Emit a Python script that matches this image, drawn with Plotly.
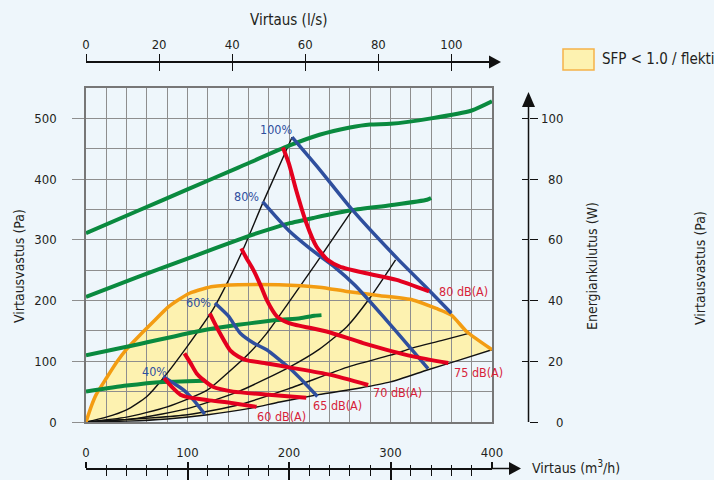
import plotly.graph_objects as go

# ---------------- data (flow m3/h, pressure Pa) ----------------
green_100_x = [0, 50, 100, 150, 200, 230, 260, 280, 300, 340, 380, 400]
green_100_y = [311, 347, 383, 419, 455, 473, 485, 490, 491, 500, 513, 528]
green_80_x = [0, 50, 100, 158, 178, 200, 224, 262, 300, 336, 340]
green_80_y = [206, 238, 269, 305, 316, 327, 336, 349, 357, 366, 369]
green_60_x = [0, 40, 112, 150, 188, 211, 225, 232]
green_60_y = [110, 124, 150, 160, 168, 171, 175, 176]
green_40_x = [0, 40, 76, 100, 117]
green_40_y = [50, 60, 66, 67, 68]

blue_100_x = [203, 230, 262, 308, 335, 360]
blue_100_y = [469, 416, 350, 267, 222, 179]
blue_80_x = [174, 200, 225, 245, 265, 300, 337]
blue_80_y = [363, 315, 280, 255, 225, 160, 88]
blue_60_x = [127, 140, 152, 165, 178, 191, 201, 215, 228]
blue_60_y = [196, 175, 146, 130, 119, 102, 88, 65, 42]
blue_40_x = [76, 86, 96, 106, 117]
blue_40_y = [75, 64, 53, 36, 13]

red_80_x = [194, 200, 207, 217, 227, 238, 250, 276, 306, 338]
red_80_y = [452, 425, 382, 328, 289, 267, 256, 245, 234, 215]
red_75_x = [153, 158, 165, 172, 178, 188, 200, 237, 273, 322, 357]
red_75_y = [286, 270, 250, 225, 201, 174, 163, 149, 130, 108, 97]
red_70_x = [122, 127, 132, 142, 150, 158, 180, 200, 240, 278]
red_70_y = [179, 162, 146, 118, 108, 102, 96, 90, 78, 61]
red_65_x = [97, 103, 109, 116, 125, 145, 180, 217]
red_65_y = [113, 97, 80, 69, 58, 50, 45, 40]
red_60_x = [77, 85, 93, 100, 120, 145, 168]
red_60_y = [72, 57, 45, 41, 36, 31, 25]

black_a_x = [0, 20, 40, 60, 76, 100, 125, 140, 155, 174, 203]
black_a_y = [0, 8, 20, 42, 72, 125, 185, 232, 285, 360, 469]
black_b_x = [0, 40, 80, 119, 139, 160, 178, 201, 227, 262]
black_b_y = [0, 8, 25, 52, 80, 112, 146, 200, 262, 348]
black_c_x = [0, 50, 100, 150, 200, 230, 257, 280, 305]
black_c_y = [0, 6, 22, 50, 90, 120, 157, 205, 267]
black_d_x = [0, 100, 150, 200, 257, 300, 322, 350, 377]
black_d_y = [0, 12, 28, 55, 90, 110, 122, 134, 146]
black_e_x = [0, 40, 80, 120, 160, 191, 229, 270, 300, 337, 370, 400]
black_e_y = [0, 1.5, 5, 12, 22, 33, 45, 56, 66, 86, 103, 119]

sfp_x = [0, 5, 10, 20, 30, 40, 53, 68, 80, 90, 102, 115, 125, 150, 190, 230, 257, 290, 322, 345, 360, 375, 400]
sfp_y = [0, 25, 45, 72, 98, 120, 143, 168, 188, 200, 212, 219, 223, 226, 226, 222, 215, 208, 201, 187, 176, 149, 119]

pa_ticks = [0, 100, 200, 300, 400, 500]
ls_ticks = [0, 20, 40, 60, 80, 100]
m3h_ticks = [0, 100, 200, 300, 400]
w_ticks = [0, 20, 40, 60, 80, 100]

green_labels = ["100%", "80%", "60%", "40%"]
blue_labels = ["100%", "80%", "60%", "40%"]
red_labels = ["80 dB(A)", "75 dB(A)", "70 dB(A)", "65 dB(A)", "60 dB(A)"]

# ---------------- style ----------------
W, H = 714, 480
BG = "#eef6fb"
GRID = "#8e8e8e"
GREEN = "#0a8a3f"
BLUE = "#2f4f9e"
RED = "#e4001f"
ORANGE = "#f39c12"
YELLOW = "#fdf2b0"
TXT = "#231f20"
FONT = "Liberation Sans Narrow, DejaVu Sans Condensed, sans-serif"

def px(xp):
    return xp / W

def py(yp):
    return 1 - yp / H

fig = go.Figure()

for xs, ys in [(black_a_x, black_a_y), (black_b_x, black_b_y), (black_c_x, black_c_y),
               (black_d_x, black_d_y), (black_e_x, black_e_y)]:
    fig.add_trace(go.Scatter(x=xs, y=ys, mode="lines", line=dict(color="#111", width=1.4, shape="spline", smoothing=0.6),
                             hoverinfo="skip", showlegend=False))

fig.add_trace(go.Scatter(x=sfp_x, y=sfp_y, mode="lines", line=dict(color=ORANGE, width=3.5, shape="spline", smoothing=0.6),
                         showlegend=False))

for xs, ys in [(green_100_x, green_100_y), (green_80_x, green_80_y), (green_60_x, green_60_y), (green_40_x, green_40_y)]:
    fig.add_trace(go.Scatter(x=xs, y=ys, mode="lines", line=dict(color=GREEN, width=4, shape="spline", smoothing=0.6),
                             showlegend=False))
for xs, ys in [(blue_100_x, blue_100_y), (blue_80_x, blue_80_y), (blue_60_x, blue_60_y), (blue_40_x, blue_40_y)]:
    fig.add_trace(go.Scatter(x=xs, y=ys, mode="lines", line=dict(color=BLUE, width=3.5, shape="spline", smoothing=0.6),
                             showlegend=False))
for xs, ys in [(red_80_x, red_80_y), (red_75_x, red_75_y), (red_70_x, red_70_y), (red_65_x, red_65_y), (red_60_x, red_60_y)]:
    fig.add_trace(go.Scatter(x=xs, y=ys, mode="lines", line=dict(color=RED, width=4, shape="spline", smoothing=0.6),
                             showlegend=False))

# empty traces so the extra (secondary) axes get drawn
for xa, ya in [("x2", "y"), ("x3", "y"), ("x4", "y"), ("x5", "y"), ("x", "y2"), ("x", "y3")]:
    fig.add_trace(go.Scatter(x=[None], y=[None], xaxis=xa, yaxis=ya, mode="lines",
                             showlegend=False, hoverinfo="skip"))

# SFP fill area (below gridlines), built from the orange curve and the lowest system curve
poly_x = sfp_x + black_e_x[::-1]
poly_y = sfp_y + black_e_y[::-1]
path = "M " + " L ".join(f"{x},{y}" for x, y in zip(poly_x, poly_y)) + " Z"
shapes = [dict(type="path", path=path, xref="x", yref="y", fillcolor=YELLOW, line=dict(width=0), layer="below")]

# axis arrow heads / extensions (decoration)
shapes += [
    dict(type="path", xref="paper", yref="paper", layer="above",
         path=f"M {px(501)},{py(62)} L {px(489)},{py(55.5)} L {px(489)},{py(68.5)} Z", fillcolor="#111", line=dict(width=0)),
    dict(type="path", xref="paper", yref="paper", layer="above",
         path=f"M {px(521)},{py(468.5)} L {px(509)},{py(462)} L {px(509)},{py(475)} Z", fillcolor="#111", line=dict(width=0)),
    dict(type="line", xref="paper", yref="paper", x0=px(492), x1=px(510), y0=py(468.5), y1=py(468.5), line=dict(color="#111", width=1.5)),
    dict(type="path", xref="paper", yref="paper", layer="above",
         path=f"M {px(528.5)},{py(92)} L {px(522)},{py(107)} L {px(535)},{py(107)} Z", fillcolor="#111", line=dict(width=0)),
    dict(type="line", xref="paper", yref="paper", x0=px(528.5), x1=px(528.5), y0=py(422), y1=py(106), line=dict(color="#111", width=1.5)),
    # legend swatch
    dict(type="rect", xref="paper", yref="paper", x0=px(563), x1=px(594), y0=py(70), y1=py(49),
         fillcolor=YELLOW, line=dict(color="#f5b24a", width=1.5)),
]

xdom = [px(86), px(492)]
ydom = [py(422), py(88)]


def label(text, x, y, size, color=TXT, xanchor="center", angle=0, xref="paper", yref="paper"):
    return dict(text=text, x=x, y=y, xref=xref, yref=yref, showarrow=False, xanchor=xanchor, yanchor="middle",
                textangle=angle, font=dict(size=size, color=color, family=FONT))


annotations = [
    label("Virtaus (l/s)", px(288), py(20), 15),
    label("Virtaus (m<sup>3</sup>/h)", px(530), py(467), 14, xanchor="left"),
    label("Virtausvastus (Pa)", px(19), py(266), 14, angle=-90),
    label("Energiankulutus (W)", px(592), py(266), 14, angle=-90),
    label("Virtausvastus (Pa)", px(700), py(268), 14, angle=-90),
    label("SFP < 1.0 / flekti", px(600), py(59), 15, xanchor="left"),
]
for v in w_ticks:
    annotations.append(label(str(v), px(565), v, 13, xanchor="right", yref="y2"))

green_pos = [(-14, 330), (-14, 222), (-14, 127), (-14, 64)]
for t, (x, y) in zip(green_labels, green_pos):
    annotations.append(label(t, x, y, 12.5, color=GREEN, xanchor="left", xref="x", yref="y"))
blue_pos = [(187, 481), (158, 371), (111, 196), (67, 83)]
for t, (x, y) in zip(blue_labels, blue_pos):
    annotations.append(label(t, x, y, 12.5, color=BLUE, xref="x", yref="y"))
red_pos = [(372, 215), (387, 81), (307, 48), (248, 28), (193, 9)]
for t, (x, y) in zip(red_labels, red_pos):
    annotations.append(label(t, x, y, 12.5, color="#d71f3a", xref="x", yref="y"))

tickfont = dict(size=13, color=TXT, family=FONT)

fig.update_layout(
    width=W, height=H, margin=dict(l=0, r=0, t=0, b=0, pad=0, autoexpand=False),
    paper_bgcolor=BG, plot_bgcolor=BG, showlegend=False,
    font=dict(family=FONT, color=TXT),
    shapes=shapes, annotations=annotations,
    xaxis=dict(domain=xdom, range=[0, 400], dtick=20, tick0=0, showgrid=True, gridcolor=GRID, gridwidth=1,
               showticklabels=False, ticks="", zeroline=False, showline=True, mirror=True,
               linecolor="#777", linewidth=1.5, automargin=False),
    yaxis=dict(domain=ydom, range=[0, 550], tickvals=pa_ticks, ticks="outside", ticklen=12, tickcolor=GRID,
               tickwidth=1, showgrid=True, gridcolor=GRID, gridwidth=1, zeroline=False,
               minor=dict(dtick=50, tick0=0, showgrid=True, gridcolor=GRID, gridwidth=1, ticks=""),
               showline=True, mirror=True, linecolor="#777", linewidth=1.5,
               tickfont=tickfont, ticklabelstandoff=13, automargin=False),
    xaxis2=dict(overlaying="x", anchor="free", position=py(62), side="top", range=[0, 400 / 3.6],
                tickvals=ls_ticks, ticks="outside", ticklen=7, tickwidth=1.3, tickcolor="#111",
                showline=True, linecolor="#111", linewidth=1.5, showgrid=False, zeroline=False,
                tickfont=tickfont, automargin=False),
    xaxis3=dict(overlaying="x", anchor="free", position=py(62), side="top", range=[0, 400 / 3.6],
                tickvals=ls_ticks, ticks="inside", ticklen=8, tickwidth=1.3, tickcolor="#111",
                showline=False, showgrid=False, zeroline=False, showticklabels=False, automargin=False),
    xaxis4=dict(overlaying="x", anchor="free", position=py(468.5), side="top", range=[0, 400],
                tickvals=m3h_ticks, ticks="outside", ticklen=6, tickwidth=1.5, tickcolor="#111",
                minor=dict(dtick=20, tick0=0, ticks="outside", ticklen=3, tickwidth=1.2, tickcolor="#111", showgrid=False),
                showline=True, linecolor="#111", linewidth=1.5, showgrid=False, zeroline=False,
                tickfont=tickfont, automargin=False),
    xaxis5=dict(overlaying="x", anchor="free", position=py(468.5), side="top", range=[0, 400],
                tickvals=m3h_ticks, ticks="inside", ticklen=12, tickwidth=1.5, tickcolor="#111",
                minor=dict(dtick=20, tick0=0, ticks="inside", ticklen=6, tickwidth=1.2, tickcolor="#111", showgrid=False),
                showline=False, showgrid=False, zeroline=False, showticklabels=False, automargin=False),
    yaxis2=dict(overlaying="y", anchor="free", position=px(528.5), side="right", range=[0, 110],
                tickvals=w_ticks, ticks="outside", ticklen=8, tickwidth=1.3, tickcolor="#111",
                showline=False, showgrid=False, zeroline=False, showticklabels=False, automargin=False),
    yaxis3=dict(overlaying="y", anchor="free", position=px(528.5), side="right", range=[0, 110],
                tickvals=w_ticks, ticks="inside", ticklen=7, tickwidth=1.3, tickcolor="#111",
                showline=False, showgrid=False, zeroline=False, showticklabels=False, automargin=False),
)

fig.write_html("out.html", config={"displayModeBar": False},
               post_script="document.body.style.margin='0';document.body.style.background='#eef6fb';")
